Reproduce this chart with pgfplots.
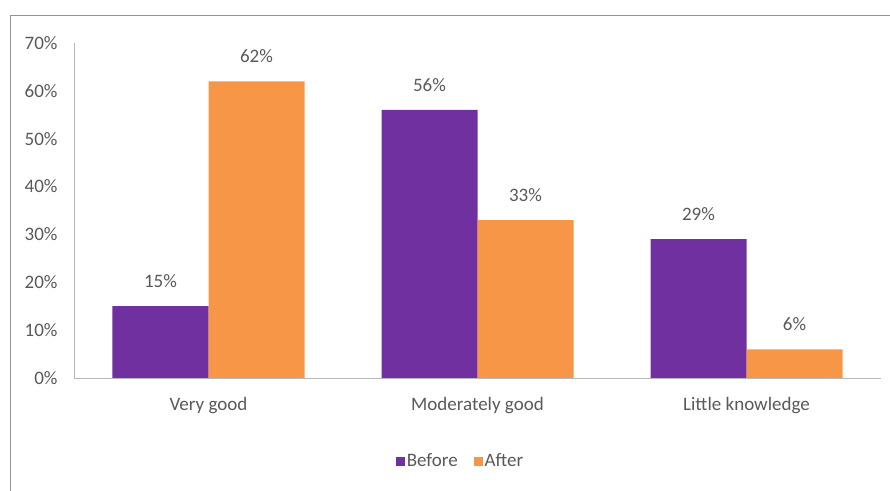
\documentclass[border=0pt]{standalone}
\usepackage{fontspec}
\setmainfont{Carlito}
\usepackage{pgfplots}
\pgfplotsset{compat=1.18}
\definecolor{barpurple}{HTML}{7030A0}
\definecolor{barorange}{HTML}{F79646}
\definecolor{txt}{HTML}{595959}
\begin{document}
\begin{tikzpicture}[font=\fontsize{19}{22}\selectfont]
\begin{axis}[name=ax, scale only axis, width=807pt, height=335pt,
  ybar=0pt, bar width=96pt,
  xmin=-0.5, xmax=2.5, ymin=0, ymax=70,
  xtick={0,1,2}, xticklabels={Very good, Moderately good, Little knowledge},
  ytick={0,10,20,30,40,50,60,70},
  yticklabels={0\%,10\%,20\%,30\%,40\%,50\%,60\%,70\%},
  axis x line*=bottom, axis y line*=left,
  axis line style={-, draw=gray!55, line width=0.8pt},
  major tick length=0pt,
  tick label style={text=txt},
  yticklabel style={xshift=-13pt},
  xticklabel style={yshift=-16pt},
  /pgf/number format/assume math mode=true,
  nodes near coords={\pgfmathprintnumber{\pgfplotspointmeta}\%},
  nodes near coords style={text=txt, yshift=15pt},
  legend style={at={(0.479,-0.248)}, anchor=center, draw=none, fill=none,
    legend columns=2, text=txt,
    /tikz/every even column/.append style={column sep=14pt}},
  legend image code/.code={\fill[#1] (0pt,-4.5pt) rectangle (9pt,4.5pt);},
]
\addplot[fill=barpurple, draw=none] coordinates {(0,15) (1,56) (2,29)};
\addplot[fill=barorange, draw=none] coordinates {(0,62) (1,33) (2,6)};
\legend{Before, After}
\end{axis}
\pgfresetboundingbox
\useasboundingbox ([shift={(-74pt,-113pt)}]ax.south west) rectangle ([shift={(9pt,43pt)}]ax.north east);
\draw[gray!85, line width=0.9pt] ([shift={(-64pt,-113pt)}]ax.south west) -- ([shift={(-64pt,28pt)}]ax.north west) -- ([shift={(9pt,28pt)}]ax.north east);
\end{tikzpicture}
\end{document}
